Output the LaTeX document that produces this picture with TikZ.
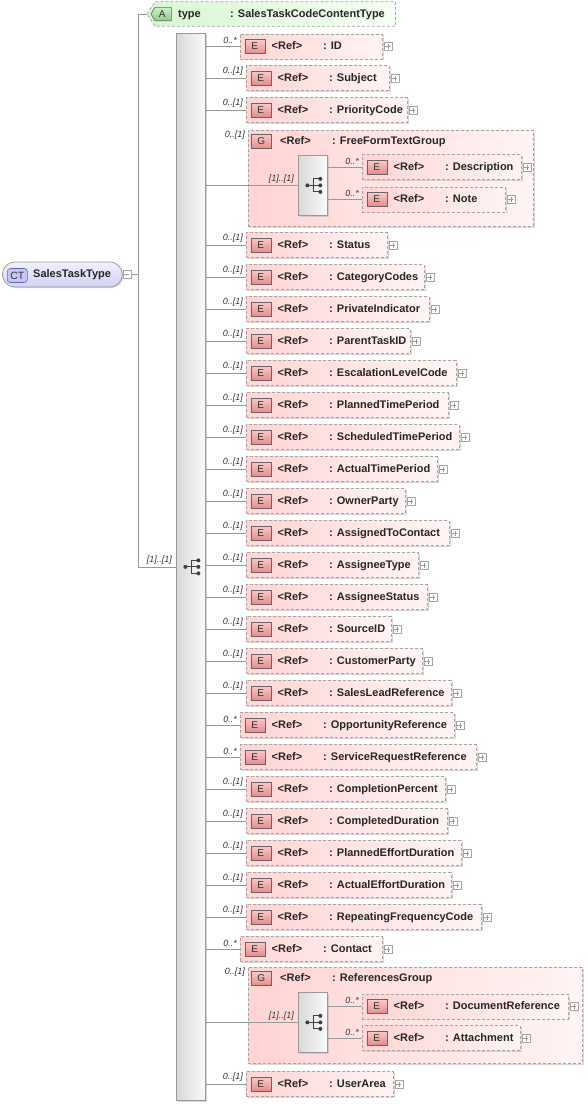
\documentclass[tikz,border=0pt]{standalone}
\usepackage{fontspec}
\setmainfont{Liberation Sans}
\usetikzlibrary{positioning, shadows, calc}

\definecolor{elemleft}{HTML}{FFD4D4}
\definecolor{elemright}{HTML}{FFF4F4}
\definecolor{ebadgetop}{HTML}{FBC8C8}
\definecolor{ebadgebot}{HTML}{E58C8C}
\definecolor{attrleft}{HTML}{D9F5D2}
\definecolor{attrright}{HTML}{F6FFF4}
\definecolor{abadgetop}{HTML}{CDEFC6}
\definecolor{abadgebot}{HTML}{8FCC86}
\definecolor{cttop}{HTML}{F0F0FF}
\definecolor{ctbot}{HTML}{D2D2F5}
\definecolor{ctbadgefill}{HTML}{C6C6F4}
\definecolor{ctbadgeline}{HTML}{6464B0}

\begin{document}
\begin{tikzpicture}[x=1pt, y=-1pt,
    conn/.style={draw=black!40, line width=0.7pt},
    dashframe/.style={draw=black!35, line width=0.7pt, dash pattern=on 3pt off 2pt},
    shadowed/.style={drop shadow={shadow xshift=1.2pt, shadow yshift=-1.2pt, fill=black!30, opacity=0.5}},
    elembox/.style={dashframe, shadowed, left color=elemleft, right color=elemright, minimum height=25pt, inner sep=0pt, anchor=west},
    grpbox/.style={dashframe, shadowed, left color=elemleft, right color=elemright, inner sep=0pt, anchor=north west},
    seqbox/.style={draw=black!40, line width=0.7pt, shadowed, left color=black!15, right color=black!2, inner sep=0pt, anchor=north west},
    badge/.style={draw=black!60, line width=0.6pt, minimum width=20pt, minimum height=14pt, inner sep=0pt, anchor=west, font=\fontsize{10}{10}\selectfont, text=black!80},
    ebadge/.style={badge, top color=ebadgetop, bottom color=ebadgebot},
    nametxt/.style={inner sep=0pt, anchor=west, text height=8pt, text depth=2pt, text=black!85, font=\fontsize{11}{12}\selectfont\bfseries},
    card/.style={inner sep=0pt, text=black!80, font=\fontsize{9}{10}\selectfont\itshape},
    plusbox/.style={draw=black!35, line width=0.5pt, fill=white, minimum size=8pt, inner sep=0pt, anchor=west,
      path picture={\draw[black!40, line width=0.5pt]
        ([xshift=-2.5pt]path picture bounding box.center) -- ([xshift=2.5pt]path picture bounding box.center)
        ([yshift=-2.5pt]path picture bounding box.center) -- ([yshift=2.5pt]path picture bounding box.center);}},
    minusbox/.style={draw=black!35, line width=0.5pt, fill=white, minimum size=8pt, inner sep=0pt, anchor=west,
      path picture={\draw[black!40, line width=0.5pt]
        ([xshift=-2.5pt]path picture bounding box.center) -- ([xshift=2.5pt]path picture bounding box.center);}},
    ctbox/.style={draw=black!40, line width=0.7pt, rounded corners=12.5pt, top color=cttop, bottom color=ctbot, shadowed, minimum width=120pt, minimum height=25pt, inner sep=0pt, anchor=west}
  ]
  \useasboundingbox (0,0) rectangle (588,1104);

  % root complex type
  \node[ctbox] (ct) at (2,274.5) {};
  \node[badge, draw=ctbadgeline, fill=ctbadgefill, rounded corners=3pt, font=\fontsize{10.5}{10.5}\selectfont] (ctb) at (7,275.5) {CT};
  \node[nametxt] (ctname) at (33,274.5) {SalesTaskType};
  \node[minusbox] (ctm) at (ct.east) {};
  \coordinate (jn) at (138,274.5);

  % attribute
  \node[inner sep=0pt, minimum width=248pt, minimum height=24pt, anchor=west] (typeattr) at (147,14) {};
  \path[dashframe, left color=attrleft, right color=attrright] (typeattr.west) -- ([xshift=8pt]typeattr.north west)
    -- (typeattr.north east) -- (typeattr.south east) -- ([xshift=8pt]typeattr.south west) -- cycle;
  \node[inner sep=0pt, minimum width=20pt, minimum height=13pt, anchor=west] (ab) at (151,14) {};
  \path[draw=black!60, line width=0.6pt, top color=abadgetop, bottom color=abadgebot] (ab.west) -- ([xshift=4pt]ab.north west)
    -- (ab.north east) -- (ab.south east) -- ([xshift=4pt]ab.south west) -- cycle;
  \node[inner sep=0pt, text=black!80, font=\fontsize{10}{10}\selectfont] (abtxt) at ([xshift=1pt]ab.center) {A};
  \node[nametxt] (typename) at (178,14) {type};
  \node[nametxt] (typetype) at (230,14) {: SalesTaskCodeContentType};

  % main sequence
  \node[seqbox, minimum width=29pt, minimum height=1067pt] (mainseq) at (176,33) {};
  \node[card, anchor=south east] (mainseqcard) at ([xshift=-4pt, yshift=2pt]mainseq.west) {[1]..[1]};

  \draw[conn] (ctm.east) -- (jn);
  \draw[conn] (typeattr.west) -| (jn);
  \draw[conn] (jn) |- (mainseq.west);

  % groups
  \node[grpbox, minimum width=285pt, minimum height=96pt] (g1) at (248,130) {};
  \node[grpbox, minimum width=334pt, minimum height=96pt] (g2) at (248,967) {};
  \foreach \g/\gname in {g1/FreeFormTextGroup, g2/ReferencesGroup} {
    \node[ebadge] (\g b) at ([xshift=3pt, yshift=-11.5pt]\g.north west) {G};
    \node[nametxt] (\g r) at ([xshift=32pt, yshift=-11.5pt]\g.north west) {<Ref>};
    \node[nametxt] (\g n) at ([xshift=84pt, yshift=-11.5pt]\g.north west) {: \gname};
    \node[card, anchor=east] (\g c) at ([xshift=-3pt, yshift=-5pt]\g.north west) {0..[1]};
    \node[seqbox, minimum width=29pt, minimum height=60pt] (\g s) at ([xshift=50pt, yshift=-25pt]\g.north west) {};
    \draw[conn] (mainseq.east |- \g s.west) -- (\g s.west);
    \node[card, anchor=south east] (\g sc) at ([xshift=-4pt, yshift=2pt]\g s.west) {[1]..[1]};
  }

  % sequence icons
  \foreach \s in {mainseq, g1s, g2s} {
    \begin{scope}[shift={(\s.center)}]
      \draw[black!75, line width=0.8pt] (-5.5,0) -- (7,0) (0.5,-6.5) -- (0.5,6.5)
        (0.5,-6.5) -- (7,-6.5) (0.5,6.5) -- (7,6.5);
      \foreach \dy in {-6.5,0,6.5}
        \fill[black!75] (7.5,\dy) circle (2pt);
      \fill[black!75] (-5.5,0) circle (2pt);
    \end{scope}
  }

  % elements of the main sequence
  \foreach \y/\l/\r/\c/\n [count=\i] in {
      46.5/240/382/0..*/ID, 78/246/389/0..[1]/Subject, 110/246/407/0..[1]/PriorityCode,
      245/246/387/0..[1]/Status, 277/246/424/0..[1]/CategoryCodes, 309/246/429/0..[1]/PrivateIndicator,
      341/246/410/0..[1]/ParentTaskID, 373/246/456/0..[1]/EscalationLevelCode,
      405/246/448/0..[1]/PlannedTimePeriod, 437/246/459/0..[1]/ScheduledTimePeriod,
      469/246/437/0..[1]/ActualTimePeriod, 501/246/405/0..[1]/OwnerParty,
      533/246/449/0..[1]/AssignedToContact, 565/246/418/0..[1]/AssigneeType,
      597/246/427/0..[1]/AssigneeStatus, 629/246/391/0..[1]/SourceID,
      661/246/422/0..[1]/CustomerParty, 693/246/451/0..[1]/SalesLeadReference,
      725/240/454/0..*/OpportunityReference, 757/240/476/0..*/ServiceRequestReference,
      789/246/445/0..[1]/CompletionPercent, 821/246/447/0..[1]/CompletedDuration,
      853/246/461/0..[1]/PlannedEffortDuration, 885/246/451/0..[1]/ActualEffortDuration,
      917/246/481/0..[1]/RepeatingFrequencyCode, 949/240/382/0..*/Contact,
      1084/246/393/0..[1]/UserArea} {
    \node[elembox, minimum width={\r-\l}] (e\i) at (\l,\y) {};
    \node[ebadge] (eb\i) at ([xshift=4.5pt]e\i.west) {E};
    \node[nametxt] (er\i) at ([xshift=31.5pt]e\i.west) {<Ref>};
    \node[nametxt] (en\i) at ([xshift=83pt]e\i.west) {: \n};
    \node[plusbox] (ep\i) at ([xshift=1pt]e\i.east) {};
    \draw[conn] (mainseq.east |- e\i.west) -- (e\i.west);
    \node[card, anchor=south east] (ec\i) at ([xshift=-3pt, yshift=2.5pt]e\i.west) {\c};
  }

  % elements inside the groups
  \foreach \y/\r/\n/\p [count=\i] in {
      167/521/Description/g1s, 199.5/505/Note/g1s,
      1006.5/568/DocumentReference/g2s, 1038/520/Attachment/g2s} {
    \node[elembox, minimum width={\r-362}] (c\i) at (362,\y) {};
    \node[ebadge] (cb\i) at ([xshift=4.5pt]c\i.west) {E};
    \node[nametxt] (cr\i) at ([xshift=31.5pt]c\i.west) {<Ref>};
    \node[nametxt] (cn\i) at ([xshift=83pt]c\i.west) {: \n};
    \node[plusbox] (cp\i) at ([xshift=1pt]c\i.east) {};
    \draw[conn] (\p.east |- c\i.west) -- (c\i.west);
    \node[card, anchor=south east] (cc\i) at ([xshift=-3pt, yshift=2.5pt]c\i.west) {0..*};
  }
\end{tikzpicture}
\end{document}
